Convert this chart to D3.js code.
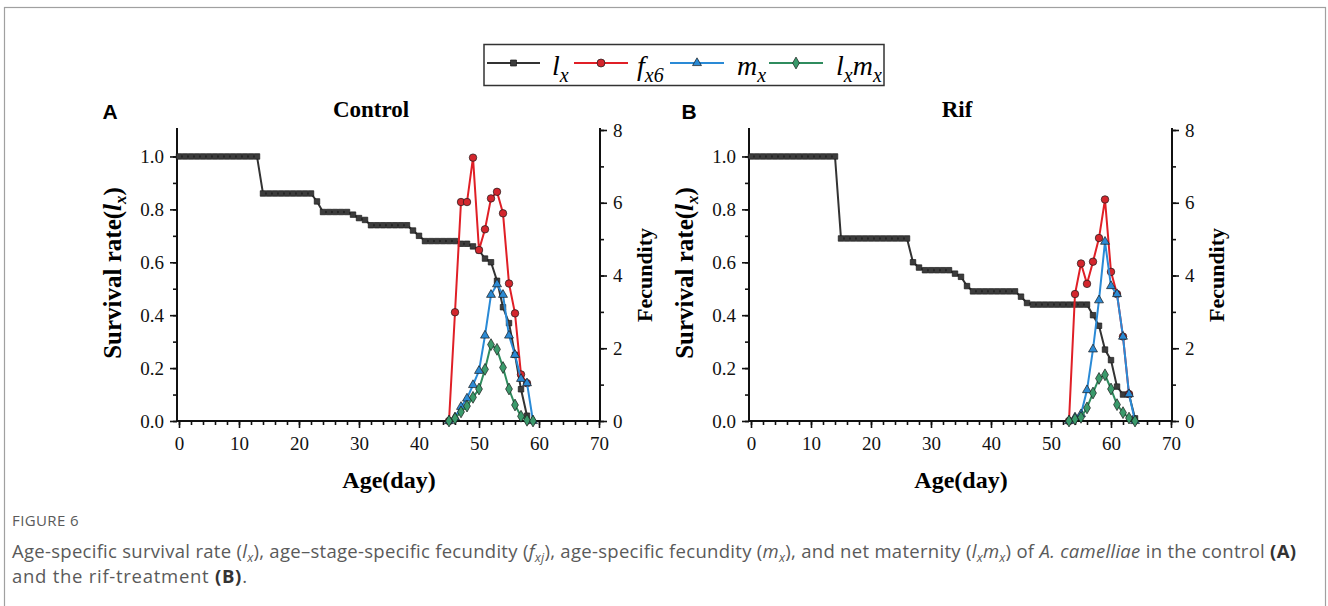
<!DOCTYPE html>
<html>
<head>
<meta charset="utf-8">
<script src="https://cdn.jsdelivr.net/npm/d3@7/dist/d3.min.js"></script>
<style>
  body { margin: 0; background: #fff; }
  svg { display: block; }
</style>
</head>
<body>
<svg id="fig" width="1328" height="606"></svg>
<script>
// ---------- data ----------
const ageTicks = [0, 10, 20, 30, 40, 50, 60, 70];
const lxTicks = [0.0, 0.2, 0.4, 0.6, 0.8, 1.0];
const fecTicks = [0, 2, 4, 6, 8];

// control: lx from day 0
const ctrlLx = [1.0,1.0,1.0,1.0,1.0,1.0,1.0,1.0,1.0,1.0,1.0,1.0,1.0,1.0,
  0.86,0.86,0.86,0.86,0.86,0.86,0.86,0.86,0.86,
  0.83,
  0.79,0.79,0.79,0.79,0.79,
  0.78,0.767,0.76,
  0.74,0.74,0.74,0.74,0.74,0.74,0.74,
  0.72,0.70,
  0.68,0.68,0.68,0.68,0.68,0.68,
  0.67,0.67,0.66,0.645,0.614,0.60,0.53,0.43,0.37,0.25,0.12,0.02];
const ctrlRepStart = 45;
const ctrlFx = [0, 2.99, 6.02, 6.02, 7.24, 4.70, 5.27, 6.12, 6.30, 5.71, 3.78, 2.96, 1.28, 1.04];
const ctrlMx = [0, 0.10, 0.39, 0.62, 0.99, 1.38, 2.35, 3.47, 3.76, 3.47, 2.35, 1.82, 1.16, 1.04, 0];
const ctrlLxMx = [0, 0.07, 0.25, 0.41, 0.65, 0.88, 1.42, 2.10, 1.97, 1.47, 0.88, 0.44, 0.13, 0.02, 0];

// rif: lx from day 0
const rifLx = [1.0,1.0,1.0,1.0,1.0,1.0,1.0,1.0,1.0,1.0,1.0,1.0,1.0,1.0,1.0,
  0.69,0.69,0.69,0.69,0.69,0.69,0.69,0.69,0.69,0.69,0.69,0.69,
  0.60,0.58,
  0.57,0.57,0.57,0.57,0.57,
  0.557,0.545,0.51,
  0.49,0.49,0.49,0.49,0.49,0.49,0.49,0.49,
  0.47,0.446,
  0.44,0.44,0.44,0.44,0.44,0.44,0.44,0.44,0.44,0.44,
  0.40,0.36,0.27,0.23,0.13,0.10,0.10,0.01];
const rifRepStart = 53;
const rifFx = [0, 3.49, 4.33, 3.77, 4.38, 5.03, 6.09, 4.10, 3.49, 2.32, 0.74];
const rifMx = [0, 0.10, 0.19, 0.85, 1.97, 3.32, 4.93, 3.71, 3.49, 2.32, 0.74, 0];
const rifLxMx = [0, 0.05, 0.10, 0.36, 0.77, 1.17, 1.27, 0.88, 0.45, 0.23, 0.08, 0];

// ---------- styles ----------
const serif = "'Liberation Serif', 'Times New Roman', serif";
const sans = "'Liberation Sans', Arial, sans-serif";
const capFont = "'Open Sans', 'Noto Sans', sans-serif";
const cLx = "#333333", cFx = "#e01f26", cMx = "#2a8ad6", cLxMx = "#2f8c5e";
const mLx = "#3c3c3c", mFx = "#d3262d", mMx = "#2b8ad4", mLxMx = "#3a9a6b";

const svg = d3.select("#fig");

// outer frame
svg.append("rect")
  .attr("x", 4.5).attr("y", 7.5)
  .attr("width", 1321).attr("height", 700)
  .attr("fill", "none").attr("stroke", "#a0a0a0").attr("stroke-width", 1.2);

const yTop = 130, yBot = 421;
const yL = d3.scaleLinear().domain([0, 1.1]).range([yBot, yTop]);
const yR = d3.scaleLinear().domain([0, 8]).range([yBot, yTop]);

function markerPath(kind, s) {
  if (kind === "square") return d3.symbol(d3.symbolSquare, s * s)();
  if (kind === "circle") return d3.symbol(d3.symbolCircle, Math.PI * s * s / 4)();
  if (kind === "triangle") return d3.symbol(d3.symbolTriangle, s * s * 0.43)();
  return d3.symbol(d3.symbolDiamond, s * s * 0.5)();
}

function drawSeries(g, pts, x, y, line, fill, kind, size) {
  g.append("path")
    .datum(pts)
    .attr("fill", "none")
    .attr("stroke", line)
    .attr("stroke-width", 2)
    .attr("d", d3.line().x(d => x(d[0])).y(d => y(d[1])));
  g.selectAll(null)
    .data(pts)
    .enter()
    .append("path")
    .attr("transform", d => "translate(" + x(d[0]) + "," + y(d[1]) + ")")
    .attr("d", markerPath(kind, size))
    .attr("fill", fill)
    .attr("stroke", "#1a1a1a")
    .attr("stroke-width", 0.7);
}

function drawPanel(p) {
  const g = svg.append("g");
  const x = d3.scaleLinear().domain([0, 70]).range([p.x0, p.x1]);

  // spines
  g.append("line").attr("x1", p.sl).attr("x2", p.sl).attr("y1", yTop - 2).attr("y2", yBot + 1)
    .attr("stroke", "#111").attr("stroke-width", 2);
  g.append("line").attr("x1", p.sr).attr("x2", p.sr).attr("y1", yTop - 2).attr("y2", yBot + 1)
    .attr("stroke", "#111").attr("stroke-width", 2);
  g.append("line").attr("x1", p.sl - 1).attr("x2", p.sr + 1).attr("y1", yBot).attr("y2", yBot)
    .attr("stroke", "#111").attr("stroke-width", 2);

  // bottom axis
  const bx = g.append("g").attr("transform", "translate(0," + yBot + ")");
  bx.append("g").call(d3.axisBottom(x).tickValues(d3.range(0, 71, 2)).tickSize(4).tickFormat(""));
  bx.append("g").call(d3.axisBottom(x).tickValues(ageTicks).tickSize(7).tickPadding(9).tickFormat(d3.format("d")));

  // left axis
  const lax = g.append("g").attr("transform", "translate(" + p.sl + ",0)");
  lax.append("g").call(d3.axisLeft(yL).tickValues(d3.range(0, 11).map(d => d / 10)).tickSize(4).tickFormat(""));
  lax.append("g").call(d3.axisLeft(yL).tickValues(lxTicks).tickSize(7).tickPadding(6).tickFormat(d3.format(".1f")));

  // right axis
  const rax = g.append("g").attr("transform", "translate(" + p.sr + ",0)");
  rax.append("g").call(d3.axisRight(yR).tickValues(d3.range(0, 9)).tickSize(4).tickFormat(""));
  rax.append("g").call(d3.axisRight(yR).tickValues(fecTicks).tickSize(7).tickPadding(6).tickFormat(d3.format("d")));

  g.selectAll(".domain").remove();
  g.selectAll(".tick line").attr("stroke", "#111").attr("stroke-width", 1.6);
  g.selectAll(".tick text").style("font-family", serif).style("font-size", "19px").attr("fill", "#111");

  // series
  const lxPts = p.lx.map((v, i) => [i, v]);
  const rep = arr => arr.map((v, i) => [p.start + i, v]);
  drawSeries(g, lxPts, x, yL, cLx, mLx, "square", 5.5);
  drawSeries(g, rep(p.fx), x, yR, cFx, mFx, "circle", 7.5);
  drawSeries(g, rep(p.mx), x, yR, cMx, mMx, "triangle", 9);
  drawSeries(g, rep(p.lxmx), x, yR, cLxMx, mLxMx, "diamond", 9);

  // panel letter and title
  g.append("text").attr("x", p.lettX).attr("y", 119).attr("text-anchor", "middle")
    .style("font-family", sans).style("font-weight", "bold").style("font-size", "21px")
    .text(p.letter);
  g.append("text").attr("x", p.titleX).attr("y", 117).attr("text-anchor", "middle")
    .style("font-family", serif).style("font-weight", "bold").style("font-size", "23px")
    .text(p.title);

  // x title
  g.append("text").attr("x", (p.x0 + p.x1) / 2).attr("y", 488).attr("text-anchor", "middle")
    .style("font-family", serif).style("font-weight", "bold").style("font-size", "24px")
    .text("Age(day)");

  // left y title
  const yt = g.append("text")
    .attr("transform", "translate(" + (p.sl - 56) + ",273) rotate(-90)")
    .attr("text-anchor", "middle")
    .style("font-family", serif).style("font-weight", "bold").style("font-size", "25px");
  yt.append("tspan").text("Survival rate(");
  yt.append("tspan").style("font-style", "italic").text("l");
  yt.append("tspan").attr("dy", 5).style("font-size", "17px").style("font-style", "italic").text("x");
  yt.append("tspan").attr("dy", -5).text(")");

  // right y title
  g.append("text")
    .attr("transform", "translate(" + (p.sr + 52) + ",275) rotate(-90)")
    .attr("text-anchor", "middle")
    .style("font-family", serif).style("font-weight", "bold").style("font-size", "22px")
    .text("Fecundity");
}

drawPanel({letter: "A", title: "Control", x0: 179, x1: 599, sl: 177, sr: 600, lettX: 110, titleX: 371,
  lx: ctrlLx, start: ctrlRepStart, fx: ctrlFx, mx: ctrlMx, lxmx: ctrlLxMx});
drawPanel({letter: "B", title: "Rif", x0: 751, x1: 1171, sl: 749, sr: 1172, lettX: 689, titleX: 957,
  lx: rifLx, start: rifRepStart, fx: rifFx, mx: rifMx, lxmx: rifLxMx});

// ---------- legend ----------
const leg = svg.append("g");
leg.append("rect").attr("x", 484).attr("y", 44.5).attr("width", 400).attr("height", 41)
  .attr("fill", "#fff").attr("stroke", "#333").attr("stroke-width", 1.5);

const legItems = [
  {x1: 487, x2: 540, line: cLx, fill: mLx, kind: "square", size: 6, parts: [["l", 0], ["x", 1]], tx: 552},
  {x1: 574, x2: 628, line: cFx, fill: mFx, kind: "circle", size: 8, parts: [["f", 0], ["x6", 1]], tx: 637},
  {x1: 670, x2: 724, line: cMx, fill: mMx, kind: "triangle", size: 9, parts: [["m", 0], ["x", 1]], tx: 737},
  {x1: 769, x2: 823, line: cLxMx, fill: mLxMx, kind: "diamond", size: 9, parts: [["l", 0], ["x", 1], ["m", 0], ["x", 1]], tx: 836}
];
legItems.forEach(it => {
  leg.append("line").attr("x1", it.x1).attr("x2", it.x2).attr("y1", 63).attr("y2", 63)
    .attr("stroke", it.line).attr("stroke-width", 2);
  leg.append("path").attr("transform", "translate(" + ((it.x1 + it.x2) / 2) + ",63)")
    .attr("d", markerPath(it.kind, it.size))
    .attr("fill", it.fill).attr("stroke", "#1a1a1a").attr("stroke-width", 0.7);
  const t = leg.append("text").attr("x", it.tx).attr("y", 75)
    .style("font-family", serif).style("font-style", "italic").style("font-size", "28px");
  let prev = 0;
  it.parts.forEach(([s, sub]) => {
    t.append("tspan").attr("dy", (sub - prev) * 7)
      .style("font-size", sub ? "20px" : "28px").text(s);
    prev = sub;
  });
});

// ---------- caption ----------
const cap = svg.append("g").style("font-family", capFont).attr("fill", "#5a5a5a");
cap.append("text").attr("x", 12).attr("y", 526).style("font-size", "15px")
  .style("letter-spacing", "0.4px").text("FIGURE 6");

function capLine(y, parts, len) {
  const t = cap.append("text").attr("x", 12).attr("y", y).style("font-size", "18.5px");
  if (len) t.attr("textLength", len).attr("lengthAdjust", "spacing");
  parts.forEach(p => {
    const ts = t.append("tspan").text(p.t);
    if (p.i) ts.style("font-style", "italic");
    if (p.b) ts.style("font-weight", "bold").attr("fill", "#333");
    if (p.sub) ts.attr("dy", 4).style("font-size", "12.5px");
    if (p.up) ts.attr("dy", -4);
  });
}
capLine(558, [
  {t: "Age-specific survival rate ("}, {t: "l", i: 1}, {t: "x", i: 1, sub: 1}, {t: "), age\u2013stage-specific fecundity (", up: 1},
  {t: "f", i: 1}, {t: "xj", i: 1, sub: 1}, {t: "), age-specific fecundity (", up: 1}, {t: "m", i: 1}, {t: "x", i: 1, sub: 1},
  {t: "), and net maternity (", up: 1}, {t: "l", i: 1}, {t: "x", i: 1, sub: 1}, {t: "m", i: 1, up: 1}, {t: "x", i: 1, sub: 1},
  {t: ") of ", up: 1}, {t: "A. camelliae", i: 1}, {t: " in the control "}, {t: "(A)", b: 1}
], 1284);
capLine(583, [{t: "and the rif-treatment "}, {t: "(B)", b: 1}, {t: "."}], 235);
</script>
</body>
</html>
